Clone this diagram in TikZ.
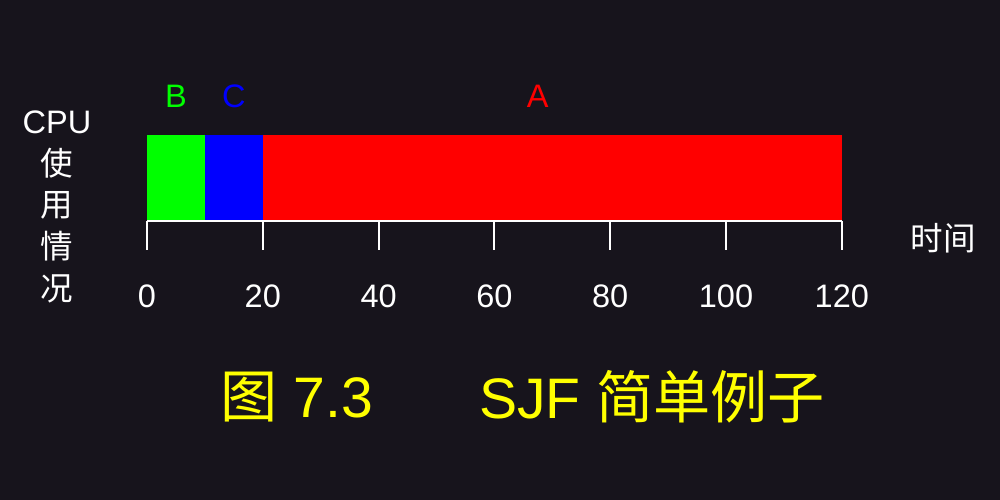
\documentclass[tikz,border=0pt]{standalone}
\usepackage{fontspec}
\setmainfont{Liberation Sans}
\newfontfamily\cjk{Noto Sans CJK SC}
\usepackage{xcolor}
\definecolor{bgdark}{HTML}{17141C}
\definecolor{jobB}{HTML}{00FF00}
\definecolor{jobC}{HTML}{0000FF}
\definecolor{jobA}{HTML}{FF0000}
\definecolor{capyellow}{HTML}{FFFF00}

\tikzset{
  lbl/.style={text=white, font=\fontsize{18.5}{22}\selectfont, inner sep=0pt},
  caption/.style={text=capyellow, font=\fontsize{32.5}{36}\selectfont, inner sep=0pt},
  axisline/.style={white, line width=1.2pt}
}

\begin{document}
\begin{tikzpicture}
    % Background
    \fill[bgdark] (0,0) rectangle (20,10);
    \useasboundingbox (0,0) rectangle (20,10);

    % Vertical label on the left
    \node[lbl] (cpu) at (1.14,7.56) {CPU};
    \node[lbl] (shi) at (1.14,6.74) {\cjk 使};
    \node[lbl] (yong) at (1.14,5.90) {\cjk 用};
    \node[lbl] (qing) at (1.14,5.08) {\cjk 情};
    \node[lbl] (kuang) at (1.14,4.22) {\cjk 况};

    % Time line, one x unit = one time unit
    \begin{scope}[shift={(2.94,5.58)}, x=0.1158cm]
        % Job bars
        \fill[jobB] (0,0.02) rectangle (10,1.72);
        \fill[jobC] (10,0.02) rectangle (20,1.72);
        \fill[jobA] (20,0.02) rectangle (120,1.72);

        % Job names
        \node[lbl, text=jobB] (nameB) at (5,2.5) {B};
        \node[lbl, text=jobC] (nameC) at (15,2.5) {C};
        \node[lbl, text=jobA] (nameA) at (67.5,2.5) {A};

        % Axis and ticks
        \coordinate (axisL) at (0,0);
        \coordinate (axisR) at (120,0);
        \draw[axisline] (axisL) -- (axisR);
        \foreach \t in {0,20,...,120} {
            \coordinate (tk\t) at (\t,0);
            \draw[axisline] (tk\t) -- ++(0,-0.58);
            \node[lbl] (num\t) at (\t,-1.5) {\t};
        }
    \end{scope}

    \node[lbl] (time) at (18.86,5.24) {\cjk 时间};

    % Caption
    \node[caption] (fig) at (5.94,2.06) {{\cjk 图} 7.3};
    \node[caption] (title) at (13.04,2.06) {SJF {\cjk 简单例子}};
\end{tikzpicture}
\end{document}
